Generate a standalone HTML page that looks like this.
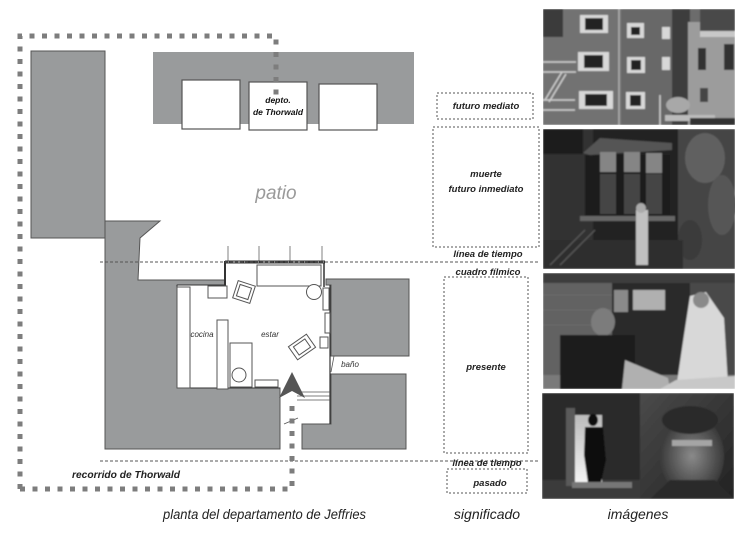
<!DOCTYPE html>
<html><head><meta charset="utf-8"><style>
html,body{margin:0;padding:0;background:#fff;}
svg{display:block;}
text{font-family:"Liberation Sans",Arial,sans-serif;}
</style></head><body>
<svg width="750" height="537" viewBox="0 0 750 537" xmlns="http://www.w3.org/2000/svg">
<defs>
<filter id="bl" x="-5%" y="-5%" width="110%" height="110%"><feGaussianBlur stdDeviation="0.9"/></filter>
<clipPath id="c1"><rect x="543" y="9" width="192" height="116"/></clipPath>
<clipPath id="c2"><rect x="543" y="129" width="192" height="140"/></clipPath>
<clipPath id="c3"><rect x="543" y="273" width="192" height="116"/></clipPath>
<clipPath id="c4"><rect x="542" y="393" width="192" height="106"/></clipPath>
<linearGradient id="door" x1="0" y1="0" x2="0" y2="1"><stop offset="0" stop-color="#bbb"/><stop offset="1" stop-color="#f4f4f4"/></linearGradient>
<radialGradient id="face" cx="0.5" cy="0.5" r="0.5"><stop offset="0" stop-color="#8a8a8a"/><stop offset="1" stop-color="#3a3a3a"/></radialGradient>
<linearGradient id="bg4" x1="0" y1="0" x2="1" y2="1"><stop offset="0" stop-color="#4a4a4a"/><stop offset="1" stop-color="#222"/></linearGradient>
</defs>

<!-- ========== FLOOR PLAN ========== -->
<rect x="31" y="51" width="74" height="187" fill="#999b9c" stroke="#555" stroke-width="1"/>
<rect x="153" y="52" width="261" height="72" fill="#999b9c"/>
<rect x="182" y="80" width="58" height="49" fill="#fff" stroke="#555" stroke-width="1.2"/>
<rect x="249" y="82" width="58" height="48" fill="#fff" stroke="#555" stroke-width="1.2"/>
<rect x="319" y="84" width="58" height="46" fill="#fff" stroke="#555" stroke-width="1.2"/>
<text x="278" y="103" font-size="8.5" font-weight="bold" font-style="italic" text-anchor="middle" fill="#111">depto.</text>
<text x="278" y="115" font-size="8.5" font-weight="bold" font-style="italic" text-anchor="middle" fill="#111">de Thorwald</text>

<text x="276" y="199" font-size="19" font-style="italic" text-anchor="middle" fill="#9a9a9a">patio</text>

<polygon points="105,221 160,221 140,238 138,280 225,280 225,285 177,285 177,388 280,388 280,449 105,449" fill="#999b9c" stroke="#555" stroke-width="1"/>
<polygon points="326,279 409,279 409,356 331,356 331,285 326,285" fill="#999b9c" stroke="#555" stroke-width="1"/>
<polygon points="331,374 406,374 406,449 302,449 302,424 331,424" fill="#999b9c" stroke="#555" stroke-width="1"/>

<g stroke="#aaa" stroke-width="1.5">
<line x1="228" y1="246" x2="228" y2="262"/>
<line x1="259" y1="246" x2="259" y2="262"/>
<line x1="290" y1="246" x2="290" y2="262"/>
<line x1="322" y1="246" x2="322" y2="262"/>
</g>

<g stroke="#333" fill="none">
<line x1="225" y1="262" x2="325" y2="262" stroke-width="3"/>
<line x1="225" y1="261" x2="225" y2="286" stroke-width="2"/>
<line x1="324" y1="262" x2="324" y2="287" stroke-width="1.5"/>
<line x1="177" y1="285" x2="225" y2="285" stroke-width="1"/>
<line x1="177" y1="285" x2="177" y2="388" stroke-width="1"/>
<line x1="177" y1="388" x2="280" y2="388" stroke-width="1"/>
<line x1="330" y1="285" x2="330" y2="424" stroke-width="1.2"/>
</g>
<line x1="226" y1="262" x2="324" y2="262" stroke="#fff" stroke-width="0.8" stroke-dasharray="3 3"/>

<g stroke="#555" stroke-width="1" fill="#fff">
<rect x="177" y="287" width="13" height="101"/>
<rect x="217" y="320" width="11" height="69"/>
<rect x="208" y="286" width="19" height="12"/>
<rect x="257" y="265" width="64" height="21"/>
<circle cx="314" cy="292" r="7.5"/>
<rect x="230" y="343" width="22" height="44"/>
<circle cx="239" cy="375" r="7"/>
<rect x="255" y="380" width="23" height="7"/>
<g transform="translate(244,292) rotate(18)"><rect x="-9" y="-9" width="18" height="18"/><rect x="-6" y="-6" width="12" height="12"/></g>
<g transform="translate(302,347) rotate(-35)"><rect x="-11" y="-8" width="22" height="16"/><rect x="-7" y="-5" width="14" height="10"/></g>
<rect x="323" y="288" width="6" height="22"/>
<rect x="325" y="313" width="5" height="20"/>
<rect x="320" y="337" width="8" height="11"/>
</g>
<g stroke="#555" stroke-width="0.8">
<line x1="295" y1="392" x2="330" y2="392"/>
<line x1="297" y1="396" x2="330" y2="396"/>
<line x1="297" y1="400" x2="330" y2="400"/>
<line x1="284" y1="424" x2="298" y2="418"/>
<line x1="334" y1="356" x2="331" y2="372"/>
</g>
<text x="202" y="337" font-size="8" font-style="italic" text-anchor="middle" fill="#333">cocina</text>
<text x="270" y="337" font-size="8" font-style="italic" text-anchor="middle" fill="#333">estar</text>
<text x="350" y="367" font-size="8" font-style="italic" text-anchor="middle" fill="#333">baño</text>

<polygon points="292,372 305,398 292,391 279,398" fill="#555"/>

<line x1="100" y1="262" x2="540" y2="262" stroke="#555" stroke-width="1" stroke-dasharray="3 2"/>
<line x1="100" y1="461" x2="540" y2="461" stroke="#555" stroke-width="1" stroke-dasharray="3 2"/>

<path d="M20,489 V36 H276 V95" fill="none" stroke="#7d7d7d" stroke-width="5" stroke-dasharray="5 7.5"/>
<path d="M20,489 H292 V400" fill="none" stroke="#7d7d7d" stroke-width="5" stroke-dasharray="5 7.5"/>

<text x="72" y="478" font-size="10" font-weight="bold" font-style="italic" fill="#222" textLength="108" lengthAdjust="spacingAndGlyphs">recorrido de Thorwald</text>
<text x="163" y="519" font-size="13.5" font-style="italic" fill="#222" textLength="203" lengthAdjust="spacingAndGlyphs">planta del departamento de Jeffries</text>

<!-- ========== SIGNIFICADO ========== -->
<g fill="none" stroke="#555" stroke-width="1" stroke-dasharray="2 2">
<rect x="437" y="93" width="96" height="26"/>
<rect x="433" y="127" width="106" height="120"/>
<rect x="444" y="277" width="84" height="176"/>
<rect x="447" y="469" width="80" height="24"/>
</g>
<g font-size="9.5" font-weight="bold" font-style="italic" fill="#222" text-anchor="middle">
<text x="486" y="109">futuro mediato</text>
<text x="486" y="177">muerte</text>
<text x="486" y="192">futuro inmediato</text>
<text x="488" y="257">línea de tiempo</text>
<text x="488" y="275">cuadro fílmico</text>
<text x="486" y="370">presente</text>
<text x="487" y="466">línea de tiempo</text>
<text x="490" y="486">pasado</text>
</g>
<text x="487" y="519" font-size="14" font-style="italic" text-anchor="middle" fill="#222">significado</text>
<text x="638" y="519" font-size="14" font-style="italic" text-anchor="middle" fill="#222">imágenes</text>

<!-- ========== PHOTOS ========== -->
<!-- Photo 1 -->
<g clip-path="url(#c1)" filter="url(#bl)">
<rect x="543" y="9" width="192" height="116" fill="#6c6c6c"/>
<rect x="543" y="9" width="78" height="116" fill="#727272"/>
<rect x="543" y="9" width="20" height="28" fill="#3a3a3a"/>
<rect x="622" y="9" width="52" height="116" fill="#686868"/>
<rect x="672" y="9" width="18" height="116" fill="#3e3e3e"/>
<rect x="688" y="22" width="47" height="103" fill="#9c9c9c"/>
<rect x="700" y="9" width="35" height="22" fill="#4a4a4a"/>
<rect x="700" y="31" width="35" height="6" fill="#c8c8c8"/>
<rect x="698" y="48" width="8" height="22" fill="#333"/>
<rect x="724" y="44" width="10" height="26" fill="#333"/>
<rect x="700" y="88" width="8" height="14" fill="#444"/>
<line x1="619" y1="9" x2="619" y2="125" stroke="#b0b0b0" stroke-width="1.5"/>
<g fill="#d8d8d8">
<rect x="580" y="15" width="28" height="18"/><rect x="627" y="23" width="17" height="15"/><rect x="662" y="27" width="8" height="12"/>
<rect x="578" y="52" width="31" height="19"/><rect x="627" y="57" width="18" height="16"/><rect x="662" y="57" width="8" height="13"/>
<rect x="579" y="91" width="34" height="18"/><rect x="626" y="92" width="19" height="17"/>
</g>
<g fill="#222">
<rect x="585" y="18" width="18" height="12"/><rect x="631" y="27" width="9" height="8"/>
<rect x="584" y="55" width="19" height="13"/><rect x="631" y="60" width="10" height="10"/>
<rect x="585" y="94" width="22" height="12"/><rect x="630" y="95" width="11" height="11"/>
</g>
<g stroke="#d0d0d0" stroke-width="1.5" fill="none">
<line x1="543" y1="62" x2="576" y2="62"/><line x1="543" y1="72" x2="576" y2="72"/>
<line x1="543" y1="100" x2="575" y2="100"/><line x1="543" y1="110" x2="575" y2="110"/>
<line x1="545" y1="100" x2="562" y2="72"/><line x1="549" y1="102" x2="566" y2="74"/>
<line x1="660" y1="125" x2="660" y2="95"/>
</g>
<ellipse cx="678" cy="105" rx="12" ry="8" fill="#a8a8a8"/>
<rect x="665" y="115" width="50" height="6" fill="#bbb"/>
<rect x="690" y="118" width="45" height="7" fill="#333"/>
</g>
<!-- Photo 2 -->
<g clip-path="url(#c2)" filter="url(#bl)">
<rect x="543" y="129" width="192" height="140" fill="#242424"/>
<rect x="543" y="129" width="50" height="140" fill="#333"/>
<rect x="543" y="129" width="40" height="25" fill="#1c1c1c"/>
<rect x="678" y="129" width="57" height="140" fill="#444"/>
<ellipse cx="705" cy="158" rx="20" ry="25" fill="#606060"/>
<ellipse cx="722" cy="205" rx="14" ry="30" fill="#575757"/>
<ellipse cx="690" cy="240" rx="12" ry="20" fill="#3a3a3a"/>
<polygon points="583,153 600,138 672,143 672,150 590,155" fill="#555"/>
<rect x="585" y="155" width="85" height="62" fill="#1c1c1c"/>
<g fill="#858585">
<rect x="600" y="152" width="16" height="20"/><rect x="624" y="152" width="16" height="20"/><rect x="646" y="153" width="16" height="20"/>
</g>
<g fill="#444">
<rect x="600" y="174" width="16" height="40"/><rect x="624" y="174" width="16" height="40"/><rect x="646" y="174" width="16" height="40"/>
</g>
<rect x="580" y="216" width="95" height="5" fill="#666"/>
<rect x="543" y="240" width="140" height="29" fill="#2e2e2e"/>
<rect x="636" y="210" width="12" height="55" fill="#c0c0c0"/>
<circle cx="641" cy="208" r="5" fill="#aaa"/>
<g stroke="#555" stroke-width="1.5"><line x1="550" y1="265" x2="585" y2="230"/><line x1="560" y1="265" x2="595" y2="230"/></g>
</g>
<!-- Photo 3 -->
<g clip-path="url(#c3)" filter="url(#bl)">
<rect x="543" y="273" width="192" height="116" fill="#555"/>
<rect x="543" y="273" width="75" height="116" fill="#626262"/>
<g stroke="#6c6c6c" stroke-width="1"><line x1="543" y1="295" x2="612" y2="295"/><line x1="543" y1="310" x2="612" y2="310"/><line x1="543" y1="325" x2="612" y2="325"/></g>
<rect x="543" y="273" width="192" height="10" fill="#3e3e3e"/>
<rect x="612" y="283" width="78" height="95" fill="#2a2a2a"/>
<rect x="633" y="290" width="32" height="20" fill="#b0b0b0"/>
<rect x="614" y="290" width="14" height="22" fill="#8a8a8a"/>
<rect x="690" y="283" width="45" height="106" fill="#4a4a4a"/>
<rect x="543" y="375" width="192" height="14" fill="#7a7a7a"/>
<ellipse cx="603" cy="322" rx="12" ry="14" fill="#7c7c7c"/>
<rect x="560" y="335" width="75" height="54" fill="#1a1a1a"/>
<polygon points="625,360 668,378 670,389 622,389" fill="#b0b0b0"/>
<polygon points="690,296 706,292 724,318 728,384 676,389 684,335" fill="#d8d8d8"/>
<polygon points="676,380 735,376 735,389 660,389" fill="#c8c8c8"/>
<ellipse cx="701" cy="300" rx="8" ry="8" fill="#8a8a8a"/>
</g>
<!-- Photo 4 -->
<g clip-path="url(#c4)" filter="url(#bl)">
<rect x="542" y="393" width="192" height="106" fill="#1e1e1e"/>
<rect x="542" y="393" width="98" height="106" fill="#2c2c2c"/>
<rect x="542" y="480" width="98" height="19" fill="#3a3a3a"/>
<rect x="574" y="415" width="28" height="68" fill="url(#door)"/>
<rect x="566" y="408" width="9" height="78" fill="#5a5a5a"/>
<ellipse cx="593" cy="420" rx="5" ry="6" fill="#111"/>
<polygon points="585,427 603,427 606,460 601,483 588,483 584,455" fill="#111"/>
<rect x="572" y="482" width="60" height="6" fill="#777"/>
<rect x="640" y="393" width="94" height="106" fill="url(#bg4)"/>
<ellipse cx="692" cy="456" rx="32" ry="40" fill="url(#face)"/>
<ellipse cx="690" cy="420" rx="28" ry="14" fill="#2a2a2a"/>
<rect x="672" y="440" width="40" height="6" fill="#a5a5a5"/>
<polygon points="650,499 670,480 715,480 734,499" fill="#2a2a2a"/>
</g>
</svg>
</body></html>
